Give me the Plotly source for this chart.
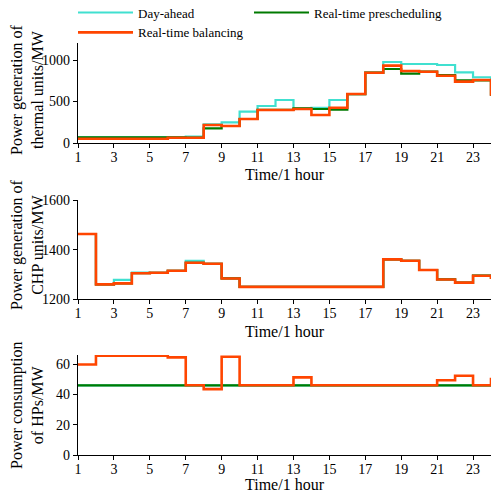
import plotly.graph_objects as go

hours = list(range(1, 25))
x_ticks = list(range(1, 25, 2))

thermal_day_ahead = [68, 68, 68, 68, 68, 68, 76, 225, 249, 377, 446, 518,
                     418, 425, 518, 590, 847, 976, 952, 952, 940, 852, 792, 570]
thermal_presched = [68, 68, 68, 68, 68, 68, 64, 177, 205, 289, 398, 398,
                    418, 410, 402, 590, 847, 892, 835, 859, 819, 755, 755, 570]
thermal_balancing = [52, 52, 52, 52, 52, 64, 64, 217, 205, 289, 398, 398,
                     410, 337, 425, 590, 847, 932, 867, 859, 811, 739, 759, 570]

chp_day_ahead = [1463, 1260, 1278, 1308, 1307, 1315, 1355, 1343, 1284, 1250, 1250, 1250,
                 1250, 1250, 1250, 1250, 1250, 1361, 1355, 1318, 1280, 1267, 1295, 1282]
chp_presched = [1463, 1260, 1264, 1305, 1307, 1315, 1347, 1343, 1284, 1250, 1250, 1250,
                1250, 1250, 1250, 1250, 1250, 1361, 1355, 1318, 1280, 1267, 1295, 1282]
chp_balancing = [1463, 1260, 1264, 1305, 1307, 1315, 1347, 1343, 1284, 1250, 1250, 1250,
                 1250, 1250, 1250, 1250, 1250, 1361, 1355, 1318, 1280, 1267, 1295, 1282]

hp_day_ahead = [46] * 24
hp_presched = [46] * 24
hp_balancing = [59.7, 65.5, 65.5, 65.5, 65.5, 64.4, 46, 43.5, 64.8, 46, 46, 46,
                51.2, 46, 46, 46, 46, 46, 46, 46, 49.3, 52.3, 46, 51]

names = ["Day-ahead", "Real-time prescheduling", "Real-time balancing"]
colors = ["#40E0D0", "#007A00", "#FF4500"]
widths = [2.2, 2.2, 2.6]

panels = [
    (thermal_day_ahead, thermal_presched, thermal_balancing),
    (chp_day_ahead, chp_presched, chp_balancing),
    (hp_day_ahead, hp_presched, hp_balancing),
]

FONT = "Liberation Serif"
H = 493.0
W_PLOT = 413.0
L = 78

fig = go.Figure()
for p, series in enumerate(panels):
    ax = "" if p == 0 else str(p + 1)
    for k, vals in enumerate(series):
        fig.add_trace(go.Scatter(
            x=hours, y=vals, mode="lines", line_shape="hv",
            line=dict(color=colors[k], width=widths[k]),
            name=names[k], showlegend=(p == 0),
            legend=("legend2" if k == 1 else "legend"),
            xaxis="x" + ax, yaxis="y" + ax,
        ))

# pixel layout of each panel: (top, bottom)
panel_px = [(43, 143), (200, 299.3), (355, 455)]
y_ranges = [[0, 1205], [1200, 1600], [0, 66]]
y_ticks = [[0, 500, 1000], [1200, 1400, 1600], [0, 20, 40, 60]]
y_titles = ["Power generation of<br>thermal units/MW",
            "Power generation of<br>CHP units/MW",
            "Power consumption<br>of HPs/MW"]
y_title_center = [90, 245, 405]
x_title_center = [174, 331, 484]

axis_common = dict(showline=True, linecolor="black", linewidth=1.2,
                   ticks="outside", ticklen=4, tickcolor="black", tickwidth=1.2,
                   showgrid=False, zeroline=False,
                   tickfont=dict(family=FONT, size=14, color="black"))

layout = {}
annotations = []
for p in range(3):
    ax = "" if p == 0 else str(p + 1)
    top, bot = panel_px[p]
    dom = [1 - bot / H, 1 - top / H]
    layout["xaxis" + ax] = dict(
        axis_common, domain=[0, 1], range=[1, 24], tickvals=x_ticks,
        anchor="y" + ax, ticklabelstandoff=-3,
    )
    layout["yaxis" + ax] = dict(
        axis_common, domain=dom, range=y_ranges[p], tickvals=y_ticks[p],
        anchor="x" + ax,
    )
    annotations.append(dict(
        text=y_titles[p], textangle=-90, xref="paper", yref="paper",
        x=(27 - L) / W_PLOT, y=1 - y_title_center[p] / H,
        xanchor="center", yanchor="middle", showarrow=False,
        font=dict(family=FONT, size=16, color="black"),
    ))
    annotations.append(dict(
        text="Time/1 hour", xref="paper", yref="paper",
        x=0.5, y=1 - x_title_center[p] / H,
        xanchor="center", yanchor="middle", showarrow=False,
        font=dict(family=FONT, size=16, color="black"),
    ))

fig.update_layout(
    **layout,
    annotations=annotations,
    width=492, height=493,
    margin=dict(l=L, r=1, t=0, b=0, autoexpand=False),
    paper_bgcolor="white", plot_bgcolor="white",
    font=dict(family=FONT, color="black"),
    legend=dict(x=(73 - L) / W_PLOT, y=1.005, xanchor="left", yanchor="top",
                bgcolor="rgba(0,0,0,0)", font=dict(family=FONT, size=13, color="black"),
                tracegroupgap=0, itemwidth=55),
    legend2=dict(x=(249 - L) / W_PLOT, y=1.005, xanchor="left", yanchor="top",
                 bgcolor="rgba(0,0,0,0)", font=dict(family=FONT, size=13, color="black"),
                 itemwidth=55),
)

fig.write_html("out.html")
